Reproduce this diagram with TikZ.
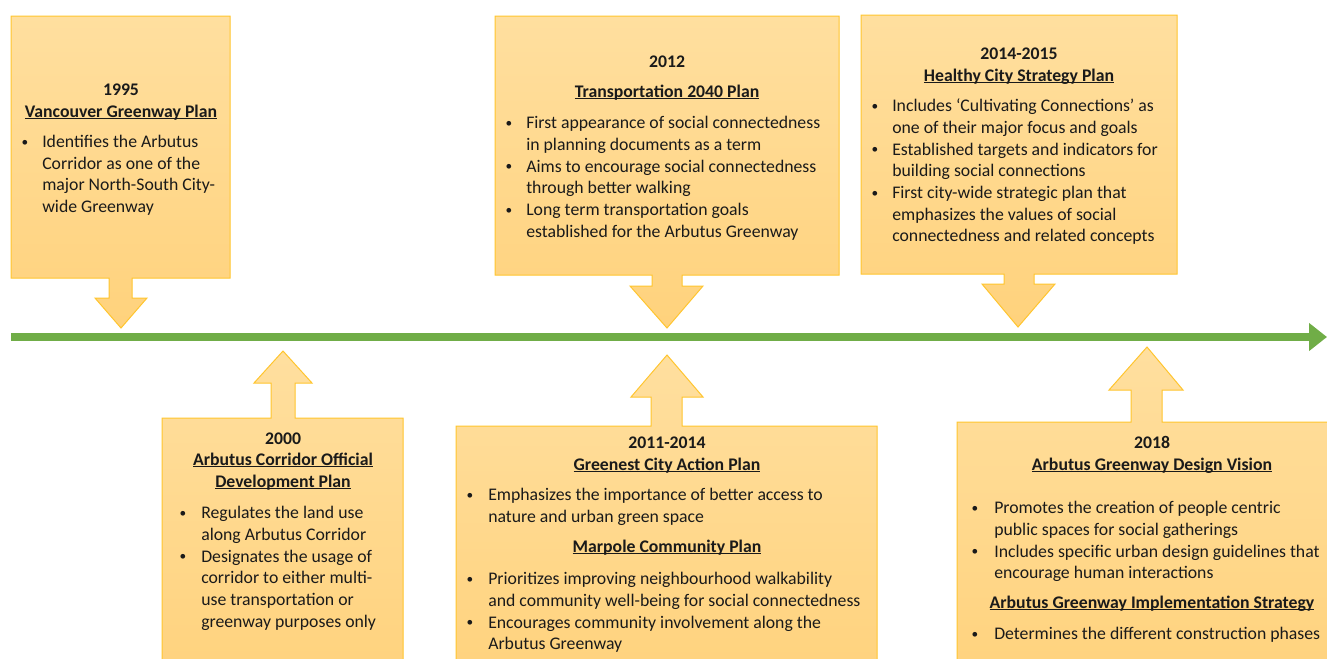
\documentclass[tikz,border=0pt]{standalone}
\usepackage{fontspec}
\setmainfont{Carlito}
\usetikzlibrary{arrows.meta}

\definecolor{calloutTop}{HTML}{FFDF9F}
\definecolor{calloutBottom}{HTML}{FFD27C}
\definecolor{calloutEdge}{HTML}{FFC52E}
\definecolor{lineGreen}{HTML}{70AD47}
\definecolor{ink}{HTML}{1A1A1A}

\newcommand\bodysize{\fontsize{13.3}{16.3}\selectfont}
% bold heading with a Word-style underline close to the baseline
\newcommand\headline[1]{\setbox0\hbox{#1}\rlap{\rule[-1.7pt]{\wd0}{0.75pt}}\box0}
% small list bullet
\newcommand\dotmark{\raisebox{0.9pt}{\fontsize{10}{12}\selectfont •}}
% stacked lines whose reference point is the first baseline
\newcommand\linesI[1]{\vtop{\hbox{#1}}}
\newcommand\linesII[2]{\vtop{\hbox{#1}\hbox{#2}}}
\newcommand\linesIII[3]{\vtop{\hbox{#1}\hbox{#2}\hbox{#3}}}
\newcommand\linesIV[4]{\vtop{\hbox{#1}\hbox{#2}\hbox{#3}\hbox{#4}}}

\begin{document}
\begin{tikzpicture}[x=0.75pt,y=-0.75pt,
  callout/.style={draw=calloutEdge, line width=0.75pt, line join=miter,
                  top color=calloutTop, bottom color=calloutBottom},
  timeline/.style={draw=lineGreen, line width=6pt,
                   -{Triangle[width=20.25pt,length=13.5pt]}},
  yearlbl/.style={anchor=base, inner sep=0pt, font=\bodysize\bfseries, text=ink},
  titlelbl/.style={anchor=base, inner sep=0pt, font=\bodysize\bfseries, text=ink},
  dotlbl/.style={anchor=base, inner sep=0pt, font=\bodysize, text=ink},
  itemlbl/.style={anchor=base west, inner sep=0pt, font=\bodysize, text=ink}]

\useasboundingbox (0,0) rectangle (1327,658);

% ---- timeline ----
\coordinate (tlStart) at (11,337);
\coordinate (tlEnd) at (1327,337);
\draw[timeline] (tlStart) -- (tlEnd);

\begin{scope}
\clip (0,0) rectangle (1327,658);
% ---- callouts above the line (arrow pointing down) ----
\path[callout] (11,16) -- (230,16) -- (230,278) -- (132,278) -- (132,298) -- (147,298)
  -- (121,328) -- (95,298) -- (109,298) -- (109,278) -- (11,278) -- cycle;
\path[callout] (495,16) -- (839,16) -- (839,275) -- (682,275) -- (682,286) -- (703,286)
  -- (667,328) -- (630,286) -- (652,286) -- (652,275) -- (495,275) -- cycle;
\path[callout] (861,15) -- (1177,15) -- (1177,274) -- (1034,274) -- (1034,284) -- (1055,284)
  -- (1018,327) -- (982,284) -- (1004,284) -- (1004,274) -- (861,274) -- cycle;
% ---- callouts below the line (arrow pointing up) ----
\path[callout] (162,690) -- (162,418) -- (271,418) -- (271,383) -- (254,383) -- (283,351)
  -- (312,383) -- (295,383) -- (295,418) -- (403,418) -- (403,690) -- cycle;
\path[callout] (456,690) -- (456,426) -- (651,426) -- (651,397) -- (631,397) -- (667,355)
  -- (703,397) -- (682,397) -- (682,426) -- (877,426) -- (877,690) -- cycle;
\path[callout] (957,690) -- (957,422) -- (1131,422) -- (1131,390) -- (1109,390) -- (1147,347)
  -- (1183,390) -- (1162,390) -- (1162,422) -- (1347,422) -- (1347,690) -- cycle;

% ---- 1995 ----
\node[yearlbl]  (y1995) at (121,95) {1995};
\node[titlelbl] (t1995) at (121,117) {\headline{Vancouver Greenway Plan}};
\node[dotlbl]   (d1995a) at (25,147.5) {\dotmark};
\node[itemlbl]  (i1995a) at (42,147.5) {\linesIV{Identifies the Arbutus}{Corridor as one of the}{major North-South City-}{wide Greenway}};

% ---- 2012 ----
\node[yearlbl]  (y2012) at (667,67) {2012};
\node[titlelbl] (t2012) at (667,97) {\headline{Transportation 2040 Plan}};
\node[dotlbl]   (d2012a) at (509,128.5) {\dotmark};
\node[itemlbl]  (i2012a) at (526,128.5) {\linesII{First appearance of social connectedness}{in planning documents as a term}};
\node[dotlbl]   (d2012b) at (509,172) {\dotmark};
\node[itemlbl]  (i2012b) at (526,172) {\linesII{Aims to encourage social connectedness}{through better walking}};
\node[dotlbl]   (d2012c) at (509,215.5) {\dotmark};
\node[itemlbl]  (i2012c) at (526,215.5) {\linesII{Long term transportation goals}{established for the Arbutus Greenway}};

% ---- 2014-2015 ----
\node[yearlbl]  (y2014) at (1019,59) {2014-2015};
\node[titlelbl] (t2014) at (1019,81) {\headline{Healthy City Strategy Plan}};
\node[dotlbl]   (d2014a) at (875,111.5) {\dotmark};
\node[itemlbl]  (i2014a) at (892,111.5) {\linesII{Includes ‘Cultivating Connections’ as}{one of their major focus and goals}};
\node[dotlbl]   (d2014b) at (875,155) {\dotmark};
\node[itemlbl]  (i2014b) at (892,155) {\linesII{Established targets and indicators for}{building social connections}};
\node[dotlbl]   (d2014c) at (875,198.5) {\dotmark};
\node[itemlbl]  (i2014c) at (892,198.5) {\linesIII{First city-wide strategic plan that}{emphasizes the values of social}{connectedness and related concepts}};

% ---- 2000 ----
\node[yearlbl]  (y2000) at (283,444) {2000};
\node[titlelbl] (t2000a) at (283,465) {\headline{Arbutus Corridor Official}};
\node[titlelbl] (t2000b) at (283,487) {\headline{Development Plan}};
\node[dotlbl]   (d2000a) at (183,518.5) {\dotmark};
\node[itemlbl]  (i2000a) at (201,518.5) {\linesII{Regulates the land use}{along Arbutus Corridor}};
\node[dotlbl]   (d2000b) at (183,562) {\dotmark};
\node[itemlbl]  (i2000b) at (201,562) {\linesIV{Designates the usage of}{corridor to either multi-}{use transportation or}{greenway purposes only}};

% ---- 2011-2014 ----
\node[yearlbl]  (y2011) at (667,448) {2011-2014};
\node[titlelbl] (t2011a) at (667,470) {\headline{Greenest City Action Plan}};
\node[dotlbl]   (d2011a) at (470,500.5) {\dotmark};
\node[itemlbl]  (i2011a) at (488,500.5) {\linesII{Emphasizes the importance of better access to}{nature and urban green space}};
\node[titlelbl] (t2011b) at (667,552) {\headline{Marpole Community Plan}};
\node[dotlbl]   (d2011b) at (470,584.5) {\dotmark};
\node[itemlbl]  (i2011b) at (488,584.5) {\linesII{Prioritizes improving neighbourhood walkability}{and community well-being for social connectedness}};
\node[dotlbl]   (d2011c) at (470,628) {\dotmark};
\node[itemlbl]  (i2011c) at (488,628) {\linesII{Encourages community involvement along the}{Arbutus Greenway}};

% ---- 2018 ----
\node[yearlbl]  (y2018) at (1152,448) {2018};
\node[titlelbl] (t2018a) at (1152,470) {\headline{Arbutus Greenway Design Vision}};
\node[dotlbl]   (d2018a) at (975,513.5) {\dotmark};
\node[itemlbl]  (i2018a) at (994,513.5) {\linesII{Promotes the creation of people centric}{public spaces for social gatherings}};
\node[dotlbl]   (d2018b) at (975,557) {\dotmark};
\node[itemlbl]  (i2018b) at (994,557) {\linesII{Includes specific urban design guidelines that}{encourage human interactions}};
\node[titlelbl] (t2018b) at (1152,608) {\headline{Arbutus Greenway Implementation Strategy}};
\node[dotlbl]   (d2018c) at (975,639.5) {\dotmark};
\node[itemlbl]  (i2018c) at (994,639.5) {\linesI{Determines the different construction phases}};
\end{scope}
\end{tikzpicture}
\end{document}
